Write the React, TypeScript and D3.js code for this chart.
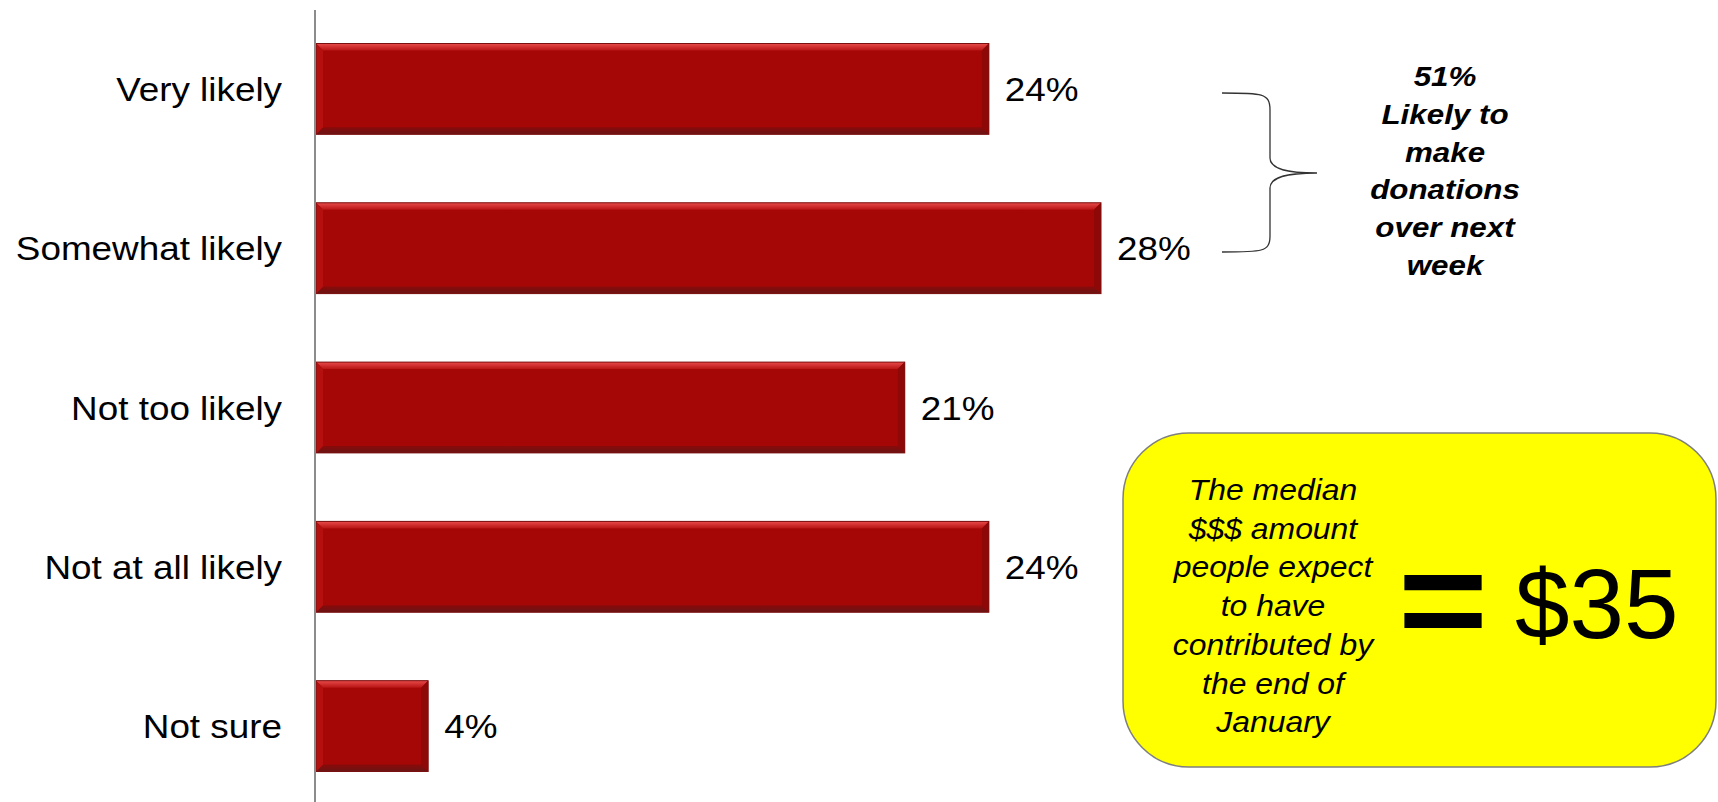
import React from "react";
import * as d3 from "d3";

const categories = ["Very likely", "Somewhat likely", "Not too likely", "Not at all likely", "Not sure"];
const values = [24, 28, 21, 24, 4];
const valueLabels = ["24%", "28%", "21%", "24%", "4%"];
const braceLines = ["51%", "Likely to", "make", "donations", "over next", "week"];
const boxLines = ["The median", "$$$ amount", "people expect", "to have", "contributed by", "the end of", "January"];
const bigValue = "$35";

const W = 1718;
const H = 802;
const SX = 1.1;
const FONT = "'Liberation Sans', Arial, Helvetica, sans-serif";

function SText({ x, y, anchor = "start", size, weight = "normal", italic = false, sx = SX, children }: any) {
  return (
    <text
      transform={`translate(${x},${y}) scale(${sx},1)`}
      textAnchor={anchor}
      fontSize={size}
      fontWeight={weight}
      fontStyle={italic ? "italic" : "normal"}
      fontFamily={FONT}
      fill="#000"
    >
      {children}
    </text>
  );
}

export default function App() {
  const y = d3.scaleBand<string>().domain(categories).range([9.25, 805.75]).paddingInner(0.43).paddingOuter(0.215);
  const x = d3.scaleLinear().domain([0, 28]).range([316, 1101]);
  const bw = y.bandwidth();
  const bev = 7;

  return (
    <svg width={W} height={H} style={{ position: "absolute", left: 0, top: 0, display: "block", background: "#fff" }}>
      <defs>
        <linearGradient id="topBev" x1="0" y1="0" x2="0" y2="1">
          <stop offset="0" stopColor="#e84a4a" />
          <stop offset="1" stopColor="#b81414" />
        </linearGradient>
        <linearGradient id="botBev" x1="0" y1="0" x2="0" y2="1">
          <stop offset="0" stopColor="#8a0a0a" />
          <stop offset="1" stopColor="#6a1414" />
        </linearGradient>
      </defs>
      {categories.map((c, i) => {
        const y0 = y(c)!;
        const x0 = x(0);
        const x1 = x(values[i]);
        const y1 = y0 + bw;
        const cy = y0 + bw / 2;
        return (
          <g key={c}>
            <rect x={x0} y={y0} width={x1 - x0} height={bw} fill="#a50707" />
            <polygon points={`${x0},${y0} ${x1},${y0} ${x1 - bev},${y0 + bev} ${x0 + bev},${y0 + bev}`} fill="url(#topBev)" />
            <polygon points={`${x0},${y1} ${x1},${y1} ${x1 - bev},${y1 - bev} ${x0 + bev},${y1 - bev}`} fill="url(#botBev)" />
            <polygon points={`${x0},${y0} ${x0 + bev},${y0 + bev} ${x0 + bev},${y1 - bev} ${x0},${y1}`} fill="#b51010" />
            <polygon points={`${x1},${y0} ${x1 - bev},${y0 + bev} ${x1 - bev},${y1 - bev} ${x1},${y1}`} fill="#8e0808" />
            <rect x={x0} y={y0} width={x1 - x0} height={bw} fill="none" stroke="#7a1010" strokeWidth={1} />
            <SText x={282} y={cy + 12} anchor="end" size={33.5}>{c}</SText>
            <SText x={x1 + 16} y={cy + 12} anchor="start" size={33.5}>{valueLabels[i]}</SText>
          </g>
        );
      })}
      <line x1={315} x2={315} y1={10} y2={H} stroke="#8c8c8c" strokeWidth={2} />

      {/* brace */}
      <path
        d="M1222,93 C1262,93 1270,93 1270,110 L1270,158 C1270,170 1290,173 1317,173 C1290,173 1270,176 1270,188 L1270,236 C1270,252 1262,252 1222,252"
        fill="none"
        stroke="#333"
        strokeWidth={1.3}
      />
      {braceLines.map((t, i) => (
        <SText key={t} x={1445} y={86 + i * 37.8} anchor="middle" size={28.5} weight="bold" italic>
          {t}
        </SText>
      ))}

      {/* yellow box */}
      <rect x={1123} y={433} width={593} height={334} rx={66} ry={66} fill="#ffff00" stroke="#7f7f7f" strokeWidth={1.5} />
      {boxLines.map((t, i) => (
        <SText key={t} x={1273} y={500 + i * 38.7} anchor="middle" size={29} italic>
          {t}
        </SText>
      ))}
      <SText x={1443} y={648} anchor="middle" size={140} weight="bold">=</SText>
      <SText x={1515} y={638} anchor="start" size={98} sx={1}>{bigValue}</SText>
    </svg>
  );
}
